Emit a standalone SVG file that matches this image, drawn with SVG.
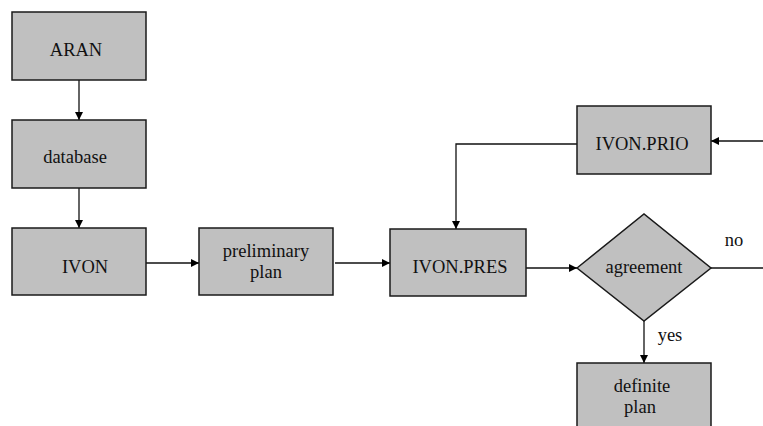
<svg xmlns="http://www.w3.org/2000/svg" width="763" height="426" viewBox="0 0 763 426">
<defs>
<marker id="arr" viewBox="0 0 10 10" refX="10" refY="5" markerWidth="8" markerHeight="8" markerUnits="userSpaceOnUse" orient="auto">
<path d="M0,0 L10,5 L0,10 z" fill="#000"/>
</marker>
<style>
.box{fill:#c0c0c0;stroke:#1a1a1a;stroke-width:1.5}
.t{font-family:'Times New Roman','Liberation Serif',Tinos,'DejaVu Serif',serif;font-size:18.5px;fill:#111;text-anchor:middle}
.c{stroke:#111;stroke-width:1.3;fill:none}
</style>
</defs>
<rect width="763" height="426" fill="#fff"/>
<g id="connectors">
<line class="c" x1="79" y1="80" x2="79" y2="120" marker-end="url(#arr)"/>
<line class="c" x1="79" y1="188" x2="79" y2="228" marker-end="url(#arr)"/>
<line class="c" x1="146" y1="263" x2="199" y2="263" marker-end="url(#arr)"/>
<line class="c" x1="335" y1="263" x2="390" y2="263" marker-end="url(#arr)"/>
<polyline class="c" points="577,144 456,144 456,229" stroke-width="1.6" marker-end="url(#arr)"/>
<line class="c" x1="763" y1="141" x2="711" y2="141" stroke-width="1.6" marker-end="url(#arr)"/>
<line class="c" x1="526" y1="268" x2="577" y2="268" marker-end="url(#arr)"/>
<line class="c" x1="711" y1="268" x2="763" y2="268" stroke-width="1.8"/>
<line class="c" x1="644" y1="321" x2="644" y2="363" marker-end="url(#arr)"/>
<text class="t" x="734" y="246">no</text>
<text class="t" x="670" y="341">yes</text>
</g>
<g id="aran"><rect class="box" x="12" y="12" width="134" height="68"/><text class="t" x="76" y="56">ARAN</text></g>
<g id="database"><rect class="box" x="12" y="120" width="134" height="68"/><text class="t" x="75" y="163">database</text></g>
<g id="ivon"><rect class="box" x="12" y="228" width="134" height="67"/><text class="t" x="85" y="273">IVON</text></g>
<g id="preliminary"><rect class="box" x="199" y="228" width="134" height="67"/><text class="t" x="266" y="257">preliminary</text><text class="t" x="266" y="278">plan</text></g>
<g id="ivonpres"><rect class="box" x="390" y="229" width="136" height="67"/><text class="t" x="460" y="273">IVON.PRES</text></g>
<g id="ivonprio"><rect class="box" x="577" y="106" width="134" height="68"/><text class="t" x="642" y="150">IVON.PRIO</text></g>
<g id="agreement"><polygon class="box" points="577,268 644,214 711,268 644,321"/><text class="t" x="644" y="273">agreement</text></g>
<g id="definite"><rect class="box" x="577" y="363" width="134" height="70"/><text class="t" x="642" y="392">definite</text><text class="t" x="640" y="413">plan</text></g>
</svg>
